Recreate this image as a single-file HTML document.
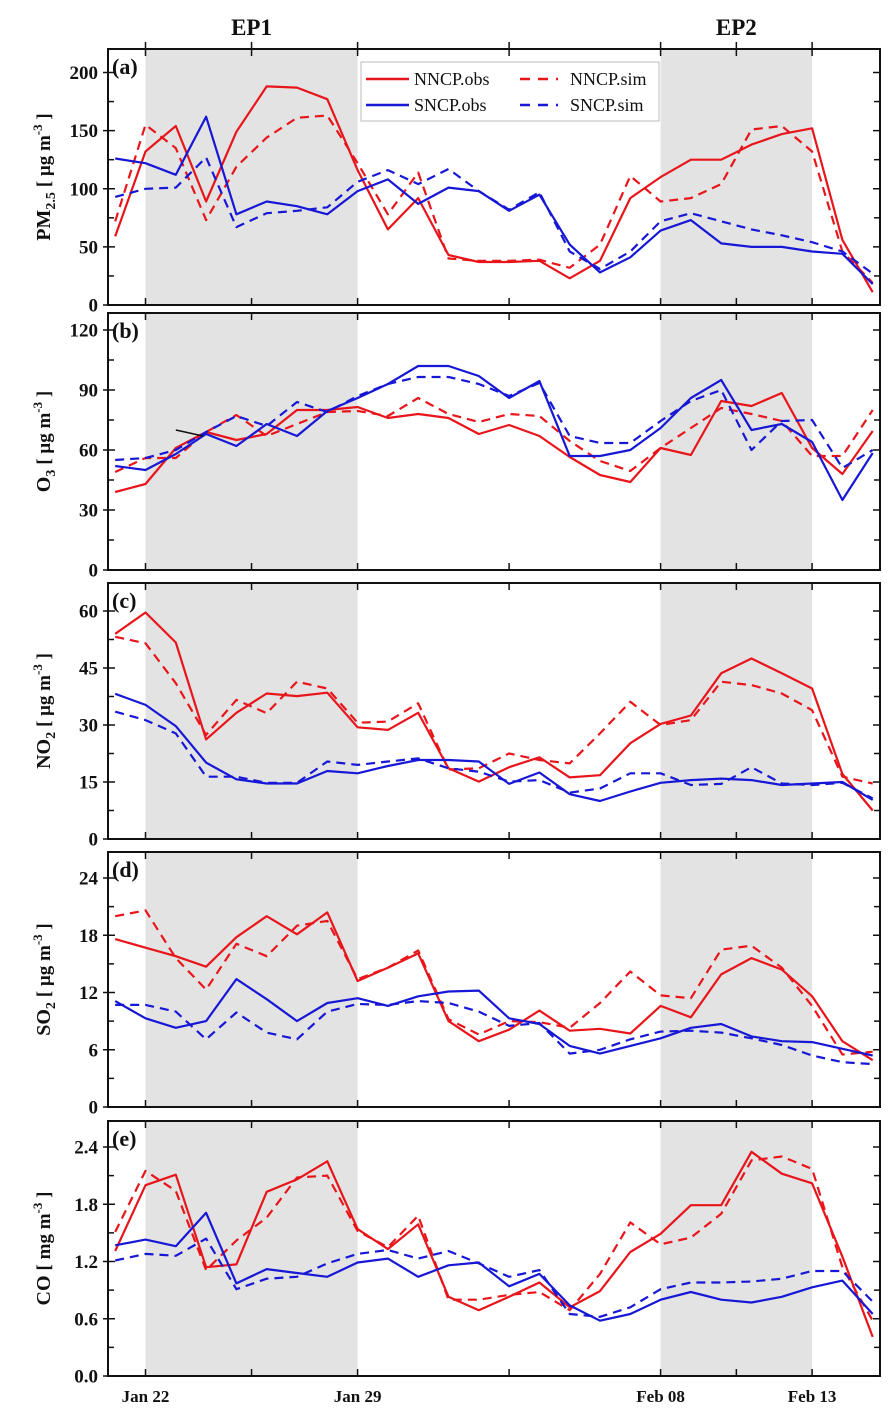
<!DOCTYPE html>
<html><head><meta charset="utf-8"><style>
html,body{margin:0;padding:0;background:#fff;}
svg{display:block;font-family:"Liberation Serif",serif;}
</style></head><body>
<svg id="chart" width="893" height="1423" viewBox="0 0 893 1423" xmlns="http://www.w3.org/2000/svg"></svg>
<script>
// ---- data (daily, Jan 21 .. Feb 15) ----
const days = ["Jan 21","Jan 22","Jan 23","Jan 24","Jan 25","Jan 26","Jan 27","Jan 28","Jan 29","Jan 30","Jan 31","Feb 01","Feb 02","Feb 03","Feb 04","Feb 05","Feb 06","Feb 07","Feb 08","Feb 09","Feb 10","Feb 11","Feb 12","Feb 13","Feb 14","Feb 15"];
const xTickLabels = ["Jan 22","Jan 29","Feb 08","Feb 13"];
const xTickDays = [1,8,18,23];
const xMinorDays = [4.5,13,20.5];
const episodes = [[1,8],[18,23]];
const episodeLabels = ["EP1","EP2"];

const pmNNCPobs = [59,132,154,89,149,188,187,177,116,65,92,43,37,37,38,23,38,92,110,125,125,138,147,152,56,11];
const pmNNCPsim = [72,155,135,73,119,144,161,163,122,78,114,40,38,38,39,32,52,111,89,92,104,151,154,132,46,19];
const pmSNCPobs = [126,122,112,162,78,89,85,78,98,108,87,101,98,81,95,52,28,41,64,73,53,50,50,46,44,18];
const pmSNCPsim = [93,100,101,127,67,79,81,84,106,116,104,117,98,82,97,46,31,46,72,79,72,65,60,54,46,27];

const o3NNCPobs = [39,43,61,69,65,68,80,80,81.5,76,78,76,68,72.5,67,56.5,47.5,44,61,57.5,84.5,82,88.5,61,48,69.5];
const o3NNCPsim = [49,56,56,69,77.5,67,73,79,79.5,77,86,78,74,78,77,64.5,54.5,49.5,61,71,81,78,74.5,57,57,80];
const o3SNCPobs = [52,50,58,68,62,73,67,79.5,86,93,102,102,97,86,94.5,57,57,60,71,86,95,70,73,64,35,58.5];
const o3SNCPsim = [55,56,60,69,77,72,84,79,87,93,96.5,96.5,93,87,93.5,67,63.5,63.5,74.5,84.5,90,60,74.5,75,51,60];

const no2NNCPobs = [54,59.6,51.7,26.2,33.2,38.3,37.6,38.5,29.4,28.7,33.2,18.6,15.1,18.9,21.5,16.2,16.8,25.2,30.3,32.5,43.6,47.5,43.6,39.6,17.1,7.5];
const no2NNCPsim = [53.2,51.5,41,27.4,36.6,33.1,41.4,39.6,30.6,30.9,35.7,18.3,18.6,22.5,20.8,19.9,27.8,36.1,30,31.3,41.4,40.5,38.3,33.9,16.4,14.6];
const no2SNCPobs = [38.2,35.3,29.7,20.1,15.7,14.6,14.6,17.9,17.3,19.2,20.8,20.8,20.4,14.5,17.5,11.8,10,12.5,14.8,15.5,15.9,15.5,14.2,14.6,15,10.3];
const no2SNCPsim = [33.5,31.3,27.8,16.4,16.4,14.8,14.8,20.4,19.5,20.4,21.2,18.6,17.7,15.1,15.5,12.2,13.3,17.3,17.3,14.2,14.5,18.9,14.6,14.2,14.8,10.7];

const so2NNCPobs = [17.6,16.7,15.8,14.7,17.8,20,18.1,20.4,13.2,14.6,16.1,9,6.9,8.1,10.1,8,8.2,7.7,10.6,9.4,13.9,15.6,14.4,11.6,6.9,4.9];
const so2NNCPsim = [20,20.6,15.6,12.3,17.1,15.8,19,19.5,13.4,14.6,16.4,9.2,7.6,9,8.9,8.3,10.9,14.2,11.7,11.4,16.5,16.9,14.6,10.6,5.5,5.8];
const so2SNCPobs = [11.1,9.3,8.3,9,13.4,11.3,9,10.9,11.4,10.6,11.6,12.1,12.2,9.3,8.7,6.4,5.6,6.4,7.2,8.3,8.7,7.4,6.9,6.8,6.1,5.4];
const so2SNCPsim = [10.7,10.7,10,7.1,9.9,7.8,7.1,10,10.8,10.7,11.1,10.9,10,8.5,8.8,5.6,6,7.1,7.9,8,7.8,7.2,6.5,5.4,4.7,4.5];

const coNNCPobs = [1.31,2.0,2.11,1.14,1.17,1.93,2.06,2.25,1.54,1.33,1.59,0.83,0.69,0.83,0.98,0.72,0.89,1.30,1.49,1.79,1.79,2.35,2.12,2.02,1.25,0.41];
const coNNCPsim = [1.51,2.15,1.94,1.11,1.42,1.66,2.08,2.10,1.52,1.35,1.68,0.80,0.80,0.85,0.88,0.69,1.07,1.61,1.38,1.45,1.70,2.26,2.30,2.17,1.14,0.58];
const coSNCPobs = [1.37,1.43,1.36,1.71,0.97,1.12,1.08,1.04,1.19,1.23,1.04,1.16,1.19,0.94,1.07,0.74,0.58,0.65,0.80,0.88,0.80,0.77,0.83,0.93,1.00,0.65];
const coSNCPsim = [1.21,1.28,1.26,1.44,0.91,1.02,1.04,1.18,1.28,1.32,1.23,1.31,1.18,1.04,1.11,0.65,0.62,0.72,0.91,0.98,0.98,0.99,1.02,1.10,1.10,0.78];

const pmTicks = [0,50,100,150,200];
const o3Ticks = [0,30,60,90,120];
const no2Ticks = [0,15,30,45,60];
const so2Ticks = [0,6,12,18,24];
const coTicks = [0,0.6,1.2,1.8,2.4];
const coTickLabels = ["0.0","0.6","1.2","1.8","2.4"];

const legendLabels = ["NNCP.obs","NNCP.sim","SNCP.obs","SNCP.sim"];

// ---- layout ----
const NS = "http://www.w3.org/2000/svg";
const svg = document.getElementById('chart');
const L = 108, R = 880;
const RED = "#e8151b", BLUE = "#1717d6";
function xs(d){ return 115.2 + 30.3*d; }
function mk(tag, attrs, parent){
  const e = document.createElementNS(NS, tag);
  for (const k in attrs) e.setAttribute(k, attrs[k]);
  (parent||svg).appendChild(e);
  return e;
}

const panels = [
  {key:"pm25", letter:"(a)", top:49, bottom:305, refVal:200, refPx:72.5, ticks:pmTicks, labels:pmTicks.map(String), series:[pmNNCPobs,pmNNCPsim,pmSNCPobs,pmSNCPsim], title:["PM","2.5","[ μg m","-3"," ]"]},
  {key:"o3", letter:"(b)", top:313, bottom:570, refVal:120, refPx:330, ticks:o3Ticks, labels:o3Ticks.map(String), series:[o3NNCPobs,o3NNCPsim,o3SNCPobs,o3SNCPsim], title:["O","3","[ μg m","-3"," ]"]},
  {key:"no2", letter:"(c)", top:583, bottom:839, refVal:60, refPx:611, ticks:no2Ticks, labels:no2Ticks.map(String), series:[no2NNCPobs,no2NNCPsim,no2SNCPobs,no2SNCPsim], title:["NO","2","[ μg m","-3"," ]"]},
  {key:"so2", letter:"(d)", top:852, bottom:1107, refVal:24, refPx:878, ticks:so2Ticks, labels:so2Ticks.map(String), series:[so2NNCPobs,so2NNCPsim,so2SNCPobs,so2SNCPsim], title:["SO","2","[ μg m","-3"," ]"]},
  {key:"co", letter:"(e)", top:1121, bottom:1376, refVal:2.4, refPx:1147, ticks:coTicks, labels:coTickLabels, series:[coNNCPobs,coNNCPsim,coSNCPobs,coSNCPsim], title:["CO","","[ mg m","-3"," ]"]}
];
const styles = [[RED,""],[RED,"9,6"],[BLUE,""],[BLUE,"9,6"]];
const seriesNames = ["nncp-obs","nncp-sim","sncp-obs","sncp-sim"];

// episode labels
episodes.forEach((ep,i)=>{
  const t = mk('text',{x:(xs(ep[0])+xs(ep[1]))/2, y:35, 'text-anchor':'middle','font-size':23,'font-weight':'bold',fill:'#111'});
  
  
  t.textContent = episodeLabels[i];
});

panels.forEach((p)=>{
  const g = mk('g',{});
  
  
  const scale = (p.bottom - p.refPx)/p.refVal;
  const ys = v => p.bottom - v*scale;
  // shading
  episodes.forEach((ep,i)=>{
    const r = mk('rect',{x:xs(ep[0]), y:p.top, width:xs(ep[1])-xs(ep[0]), height:p.bottom-p.top, fill:'#e3e3e3'}, g);
    
    
  });
  // series
  p.series.forEach((arr,si)=>{
    const pts = arr.map((v,d)=>xs(d).toFixed(1)+','+ys(v).toFixed(1)).join(' ');
    const pl = mk('polyline',{points:pts, fill:'none', stroke:styles[si][0], 'stroke-width':2.2, 'stroke-linejoin':'round'}, g);
    if (styles[si][1]) pl.setAttribute('stroke-dasharray', styles[si][1]);
    
    
  });
  if (p.key === "o3"){
    const a = mk('line',{x1:xs(2), y1:ys(70), x2:xs(3)-3, y2:ys(67), stroke:'#111','stroke-width':1.5}, g);
    
    
  }
  // frame
  const f = mk('rect',{x:L, y:p.top, width:R-L, height:p.bottom-p.top, fill:'none', stroke:'#111','stroke-width':2}, g);
  
  
  // y ticks
  const step = p.ticks[1]-p.ticks[0];
  p.ticks.forEach((v,i)=>{
    const y = ys(v);
    mk('line',{x1:L-5,y1:y,x2:L+7,y2:y,stroke:'#111','stroke-width':1.5},g);
    mk('line',{x1:R-7,y1:y,x2:R,y2:y,stroke:'#111','stroke-width':1.5},g);
    const ym = ys(v+step/2);
    if (ym > p.top+2){
      mk('line',{x1:L,y1:ym,x2:L+6,y2:ym,stroke:'#111','stroke-width':1.5},g);
      mk('line',{x1:R-6,y1:ym,x2:R,y2:ym,stroke:'#111','stroke-width':1.5},g);
    }
    const t = mk('text',{x:98, y:y+6.5, 'text-anchor':'end','font-size':19,'font-weight':'bold',fill:'#111'}, g);
    
    
    t.textContent = p.labels[i];
  });
  // x ticks
  xTickDays.concat(xMinorDays).forEach(d=>{
    const x = xs(d);
    mk('line',{x1:x,y1:p.top-(p.key==="pm25"?7:0),x2:x,y2:p.top+7,stroke:'#111','stroke-width':1.5},g);
    mk('line',{x1:x,y1:p.bottom-7,x2:x,y2:p.bottom,stroke:'#111','stroke-width':1.5},g);
  });
  // panel letter
  const lt = mk('text',{x:112, y:p.top+25, 'font-size':22,'font-weight':'bold',fill:'#111'}, g);
  
  
  lt.textContent = p.letter;
  // y title
  const cy = (p.top+p.bottom)/2;
  const tt = mk('text',{x:0,y:0,'text-anchor':'middle','font-size':20,'font-weight':'bold',fill:'#111',transform:`translate(50,${cy}) rotate(-90)`}, g);
  
  
  const [a,sub,b,sup,c] = p.title;
  let s1 = mk('tspan',{},tt); s1.textContent = a;
  if (sub){ let s2 = mk('tspan',{'font-size':14,dy:5},tt); s2.textContent = sub; mk('tspan',{dy:-5},tt).textContent=' '; }
  else { mk('tspan',{},tt).textContent=' '; }
  let s3 = mk('tspan',{'font-size':19},tt); s3.textContent = b;
  let s4 = mk('tspan',{'font-size':13,dy:-8},tt); s4.textContent = sup;
  let s5 = mk('tspan',{'font-size':19,dy:8},tt); s5.textContent = c;
});

// x tick labels
xTickDays.forEach((d,i)=>{
  const t = mk('text',{x:xs(d), y:1402, 'text-anchor':'middle','font-size':17,'font-weight':'bold',fill:'#111'});
  
  
  t.textContent = xTickLabels[i];
});

// legend
const lg = mk('g',{});


mk('rect',{x:361,y:62,width:298,height:59,fill:'#fff',stroke:'#bbb','stroke-width':1},lg);
const legPos = [[366,79],[520,79],[366,105],[520,105]];
legendLabels.forEach((lab,i)=>{
  const [x,y] = legPos[i];
  const ln = mk('line',{x1:x,y1:y,x2:x+(i%2?38:43),y2:y,stroke:styles[i][0],'stroke-width':2.4},lg);
  if (styles[i][1]) ln.setAttribute('stroke-dasharray','10,8');
  
  
  const t = mk('text',{x:x+(i%2?50:48), y:y+6, 'font-size':18, fill:'#111'},lg);
  
  
  t.textContent = lab;
});
</script>
</body></html>
